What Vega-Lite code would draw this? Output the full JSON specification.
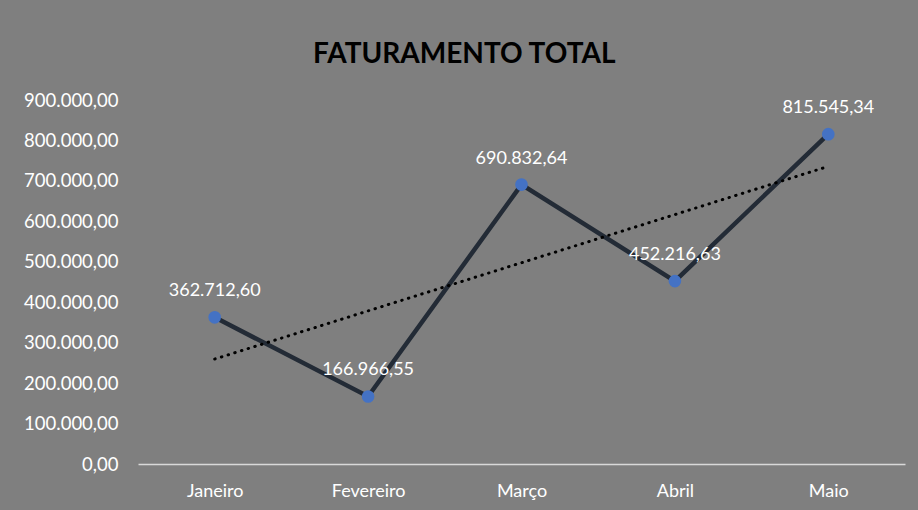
{
  "$schema": "https://vega.github.io/schema/vega-lite/v6.json",
  "width": 767,
  "height": 364,
  "autosize": "none",
  "padding": {"left": 138, "top": 100, "right": 13, "bottom": 46},
  "background": "#7f7f7f",
  "config": {
    "locale": {"number": {"decimal": ",", "thousands": ".", "grouping": [3], "currency": ["R$", ""]}},
    "view": {"stroke": null},
    "font": "Lato"
  },
  "title": {
    "text": "FATURAMENTO TOTAL",
    "fontSize": 28,
    "fontWeight": "bold",
    "color": "#000000",
    "font": "Lato",
    "anchor": "middle",
    "frame": "bounds",
    "offset": 22
  },
  "data": {
    "values": [
      {"mes": "Janeiro", "idx": 1, "valor": 362712.60},
      {"mes": "Fevereiro", "idx": 2, "valor": 166966.55},
      {"mes": "Março", "idx": 3, "valor": 690832.64},
      {"mes": "Abril", "idx": 4, "valor": 452216.63},
      {"mes": "Maio", "idx": 5, "valor": 815545.34}
    ]
  },
  "encoding": {
    "x": {
      "field": "mes",
      "type": "ordinal",
      "sort": ["Janeiro", "Fevereiro", "Março", "Abril", "Maio"],
      "scale": {"type": "point", "padding": 0.5},
      "axis": {
        "title": null,
        "labelAngle": 0,
        "labelColor": "#ffffff",
        "labelFontSize": 18,
        "labelPadding": 18,
        "ticks": false,
        "domainColor": "#d9d9d9",
        "domainWidth": 1.5,
        "grid": false
      }
    },
    "y": {
      "field": "valor",
      "type": "quantitative",
      "scale": {"domain": [0, 900000]},
      "axis": {
        "title": null,
        "values": [0, 100000, 200000, 300000, 400000, 500000, 600000, 700000, 800000, 900000],
        "format": ",.2f",
        "labelColor": "#ffffff",
        "labelFontSize": 18.5,
        "labelPadding": 20,
        "ticks": false,
        "domain": false,
        "grid": false
      }
    }
  },
  "layer": [
    {
      "mark": {"type": "line", "color": "#232b36", "strokeWidth": 4.5}
    },
    {
      "transform": [
        {"regression": "valor", "on": "idx"},
        {"lookup": "idx", "from": {"data": {"values": [{"idx": 1, "mes": "Janeiro"}, {"idx": 5, "mes": "Maio"}]}, "key": "idx", "fields": ["mes"]}}
      ],
      "mark": {"type": "line", "color": "#000000", "strokeWidth": 3, "strokeDash": [0.5, 6.5], "strokeCap": "round"}
    },
    {
      "mark": {"type": "point", "filled": true, "color": "#4472c4", "size": 160, "opacity": 1}
    },
    {
      "mark": {"type": "text", "color": "#ffffff", "fontSize": 18, "dy": -26},
      "encoding": {"text": {"field": "valor", "type": "quantitative", "format": ",.2f"}}
    }
  ]
}
